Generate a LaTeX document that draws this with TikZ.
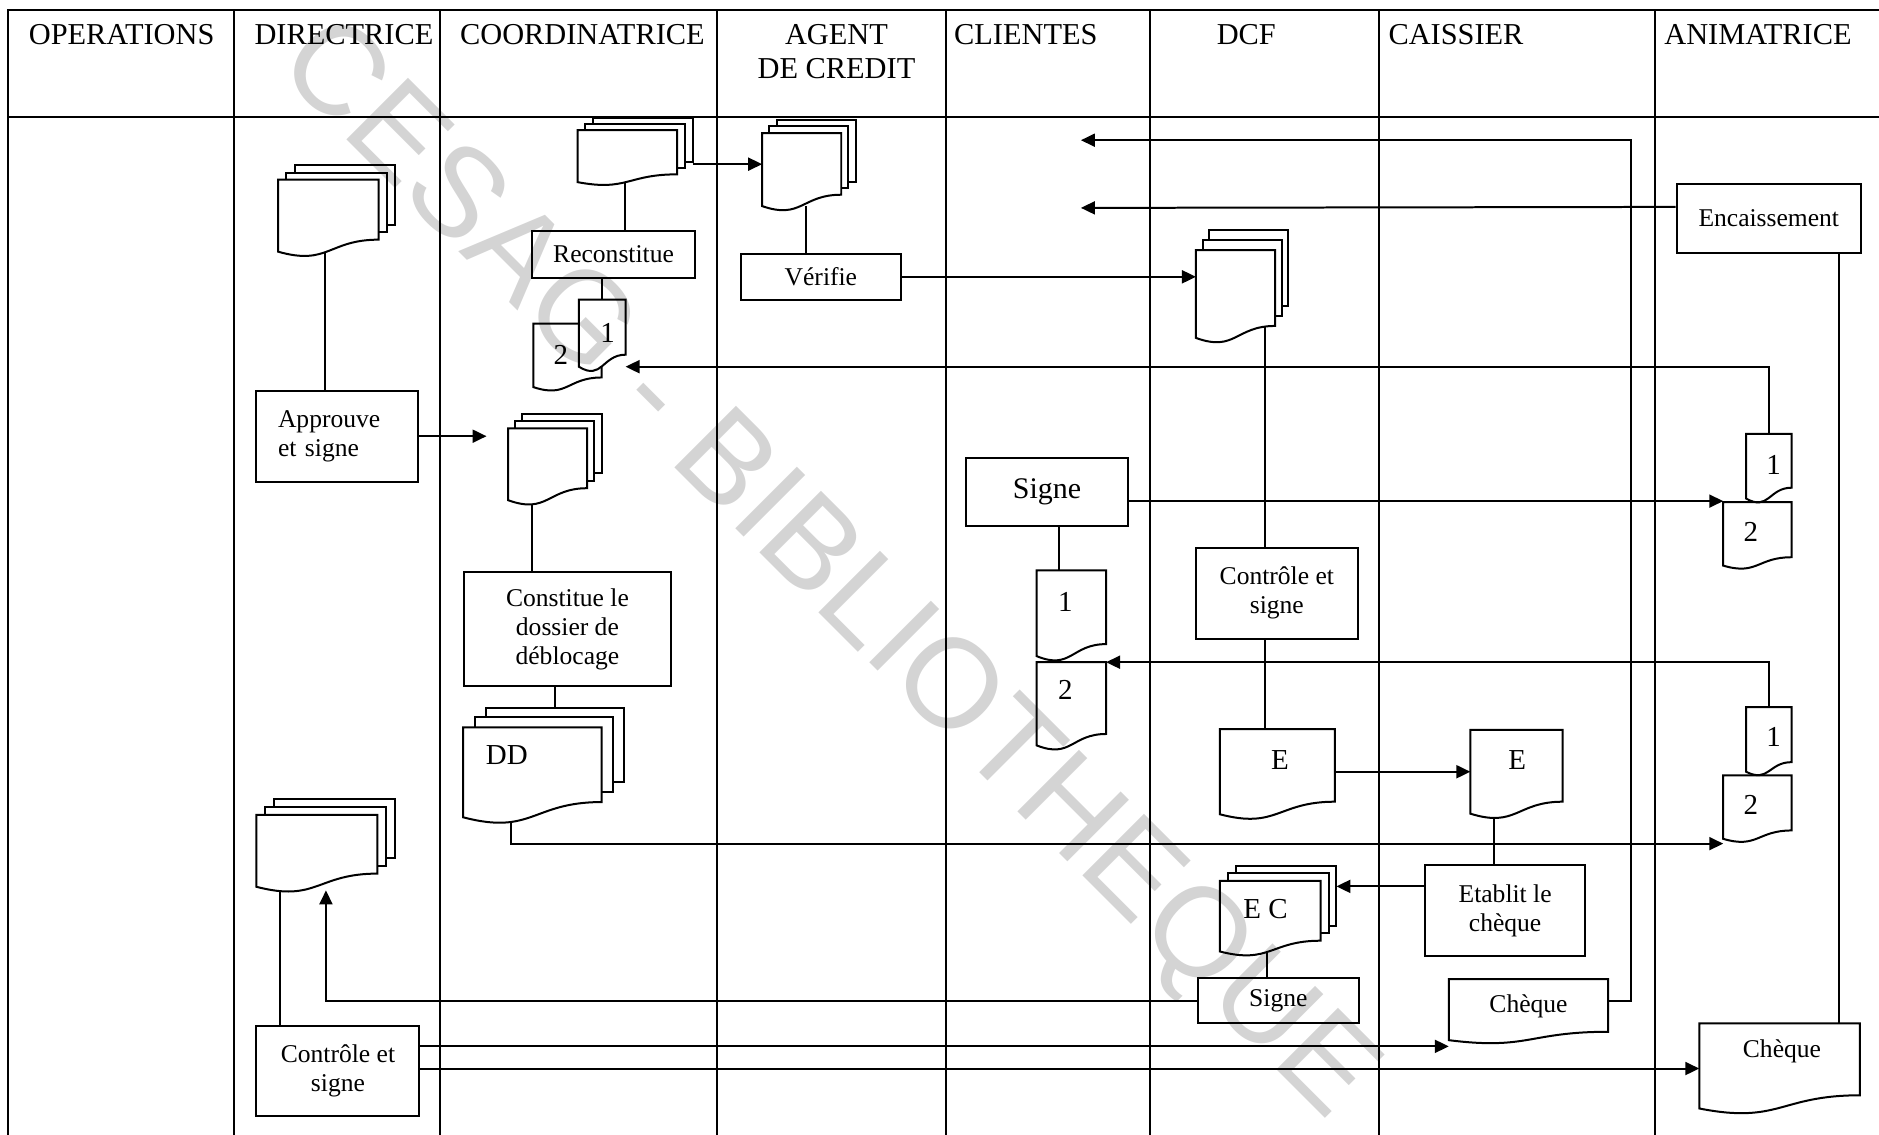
\documentclass[tikz,border=0pt]{standalone}
\usepackage{fontspec}
\setmainfont{Liberation Serif}
\newfontfamily\wmfont{Liberation Sans}
\usetikzlibrary{calc,arrows.meta}

\newcommand\docnode[5]{\node[docbox, minimum width={(#4-#2)*0.6pt}, minimum height={(#5-#3)*0.6pt}] (#1) at ({(#2+#4)/2},{(#3+#5)/2}) {};}
\newcommand\docshape[2]{\draw (#1.south west) -- (#1.north west) -- (#1.north east) -- ($(#1.south east)+(0,-#2)$) .. controls ($(#1.south)+(0,-#2)$) and ($(#1.south)+(0,{1.2*#2})$) .. (#1.south west) -- cycle;}
\newcommand\mdocshape[4]{\docshape{#1}{#2}
  \draw ($(#1.north west)+(#3,0)$) -- ($(#1.north west)+(#3,-#4)$) -- ($(#1.north east)+(#3,-#4)$) -- ($(#1.south east)+(#3,{-#2-#4})$) -- ($(#1.south east)+(0,{-#2-#4})$);
  \draw ($(#1.north west)+({2*#3},-#4)$) -- ($(#1.north west)+({2*#3},{-2*#4})$) -- ($(#1.north east)+({2*#3},{-2*#4})$) -- ($(#1.south east)+({2*#3},{-#2-2*#4})$) -- ($(#1.south east)+(#3,{-#2-2*#4})$);}

\begin{document}
\begin{tikzpicture}[x=0.6pt, y=-0.6pt, line width=1pt,
  docbox/.style={rectangle, draw=none, inner sep=0pt, outer sep=0pt},
  sz/.style 2 args={minimum width={#1*0.6pt}, minimum height={#2*0.6pt}},
  box/.style={rectangle, draw, inner sep=0pt, align=center, font=\fontsize{12.8}{14.6}\selectfont},
  hdr/.style={inner sep=0pt, font=\fontsize{15.2}{17.1}\selectfont},
  dlbl/.style={inner sep=0pt, font=\fontsize{14.5}{16}\selectfont},
  clbl/.style={inner sep=0pt, font=\fontsize{12.8}{14.6}\selectfont},
  arr/.style={-{Triangle[length=7pt,width=6.5pt]}}]

\useasboundingbox (0,0) rectangle (1568,947);

% watermark
\node[font=\wmfont\fontsize{63.4}{70}\selectfont, text=black!17, rotate=-45, inner sep=0pt, text height=45.4pt, text depth=0pt] (wm) at (696,470) {CESAG - BIBLIOTHEQUE};

% frame and swimlanes
\draw (1568,8) -- (7,8) -- (7,947);
\draw (7,98) -- (1568,98);
\foreach \xx in {195,367,598,789,960,1151,1381} \draw (\xx,8) -- (\xx,947);

% headers
\node[hdr, anchor=base] (hOP) at (101.5,37.5) {OPERATIONS};
\node[hdr, anchor=base] (hDIR) at (287,37.5) {DIRECTRICE};
\node[hdr, anchor=base] (hCO) at (486,37.5) {COORDINATRICE};
\node[hdr, align=center] (hAG) at (698,43.4) {AGENT\\DE CREDIT};
\node[hdr, anchor=base] (hCL) at (856,37.5) {CLIENTES};
\node[hdr, anchor=base] (hDCF) at (1040,37.5) {DCF};
\node[hdr, anchor=base] (hCA) at (1215,37.5) {CAISSIER};
\node[hdr, anchor=base] (hAN) at (1467,37.5) {ANIMATRICE};

% process boxes
\node[box, sz={135}{76}, align=left, text width=59.4pt] (Appr) at (281.5,364) {Approuve\\et signe};
\node[box, sz={136}{39}] (Reconst) at (512,212.5) {Reconstitue};
\node[box, sz={134}{38}] (Verif) at (685,231) {Vérifie};
\node[box, sz={173}{95}] (Const) at (473.5,525) {Constitue le\\dossier de\\déblocage};
\node[box, sz={135.5}{56.5}, font=\fontsize{15}{17}\selectfont] (SigneC) at (873.75,410.75) {Signe};
\node[box, sz={135}{76}] (CtlDCF) at (1065.5,495) {Contrôle et\\signe};
\node[box, sz={134.5}{38}] (SigneD) at (1066.75,835) {Signe};
\node[box, sz={134}{76}] (Etab) at (1256,760) {Etablit le\\chèque};
\node[box, sz={154}{57.5}] (Enc) at (1476,182.25) {Encaissement};
\node[box, sz={136}{75}] (CtlDIR) at (282,893.5) {Contrôle et\\signe};

% documents
\docnode{D1}{232}{150}{316}{210} \mdocshape{D1}{10}{7}{6}
\docnode{C1}{482}{108.5}{565}{152} \mdocshape{C1}{6.5}{6.5}{5}
\docnode{A1}{636}{111}{702}{172} \mdocshape{A1}{9.5}{6}{5.5}
\docnode{CP1}{483}{250}{522}{306} \docshape{CP1}{10}
\docnode{CP2}{445}{270}{502}{323}
\draw ($(CP2.north west)+(38,0)$) -- (CP2.north west) -- (CP2.south west) .. controls ($(CP2.south)+(0,9.6)$) and ($(CP2.south)+(0,-8)$) .. ($(CP2.south east)+(0,-8)$) -- ($(CP2.south east)+(0,-17)$);
\docnode{C2}{424}{357.5}{490}{417.4} \mdocshape{C2}{10}{6}{6.2}
\docnode{DD}{386.5}{607}{502}{682} \mdocshape{DD}{12.7}{9.5}{8.3}
\docnode{D2}{214}{680}{315}{740} \mdocshape{D2}{11}{7.4}{6.7}
\docnode{DCF1}{998}{208.7}{1064}{282} \mdocshape{DCF1}{10}{5.6}{8.3}
\docnode{CL1}{865}{476}{923}{547.5} \docshape{CL1}{10}
\docnode{CL2}{865}{552.6}{923}{622} \docshape{CL2}{9.5}
\docnode{E1}{1018}{608.5}{1114}{679.5} \docshape{E1}{10.5}
\docnode{E2}{1227}{609}{1304}{679} \docshape{E2}{10}
\docnode{EC}{1018}{735}{1102}{794} \mdocshape{EC}{9}{6.6}{6.3}
\docnode{CA2}{1209}{817}{1342}{868} \docshape{CA2}{7}
\docnode{AN1a}{1457}{362}{1495}{416} \docshape{AN1a}{9}
\docnode{AN1b}{1438}{419}{1495}{472} \docshape{AN1b}{7}
\docnode{AN2a}{1457}{590}{1495}{644} \docshape{AN2a}{8}
\docnode{AN2b}{1438}{647}{1495}{700} \docshape{AN2b}{7}
\docnode{AN3}{1418}{854}{1552}{925} \docshape{AN3}{11}

% document labels
\node[dlbl] (lCP1) at (507,278) {1};
\node[dlbl] (lCP2) at (468,296) {2};
\node[dlbl] (lDD) at (423,630) {DD};
\node[dlbl] (lCL1) at (889,502) {1};
\node[dlbl] (lCL2) at (889,576) {2};
\node[dlbl] (lE1) at (1068,634.5) {E};
\node[dlbl] (lE2) at (1266,634) {E};
\node[dlbl] (lEC) at (1056,758.5) {E C};
\node[clbl] (lCA2) at (1275.5,840) {Chèque};
\node[clbl] (lAN3) at (1487,877) {Chèque};
\node[dlbl] (lAN1a) at (1480,388) {1};
\node[dlbl] (lAN1b) at (1461,444) {2};
\node[dlbl] (lAN2a) at (1480,615) {1};
\node[dlbl] (lAN2b) at (1461,672) {2};

% connectors
\coordinate (p1) at ($(D1.south)+(-3,0)$);
\draw (p1) -- (p1 |- Appr.north);
\coordinate (p2) at ($(C1.south)+(-2,0)$);
\draw (p2) -- (p2 |- Reconst.north);
\coordinate (p3) at ($(C1.north east)+(13,28.5)$);
\draw[arr] (p3) -- (p3 -| A1.west);
\coordinate (p4) at ($(A1.south)+(4,0)$);
\draw (p4) -- (p4 |- Verif.north);
\draw[arr] (Verif.east) -- (Verif.east -| DCF1.west);
\draw (Reconst.south -| CP1.north) -- (CP1.north);
\draw[arr] (Appr.east) -- ($(Appr.east -| C2.west)+(-18,0)$);
\coordinate (p8) at ($(C2.south)+(-13,3)$);
\draw (p8) -- (p8 |- Const.north);
\coordinate (p9) at ($(DD.north)+(18.75,-16.6)$);
\draw (p9 |- Const.south) -- (p9);
\coordinate (p10) at ($(DD.south west)+(39.5,3.5)$);
\draw[arr] (p10) |- ($(AN2b.south west)+(0,4)$);
\draw[arr] (AN1a.north) |- (CP1.south east);
\coordinate (p12) at ($(SigneC.north east)+(0,36.5)$);
\draw[arr] (p12) -- (p12 -| AN1b.west);
\coordinate (p13) at ($(SigneC.south)+(10.25,0)$);
\draw (p13) -- (p13 |- CL1.north);
\draw[arr] (AN2a.north) |- (CL2.north east);
\coordinate (p15) at ($(DCF1.south)+(25,-9)$);
\draw (p15) -- (p15 |- CtlDCF.north);
\draw (p15 |- CtlDCF.south) -- (p15 |- E1.north);
\draw[arr] (E1.east) -- (E1.east -| E2.west);
\coordinate (p18) at ($(E2.south west)+(19.5,3.5)$);
\draw (p18) -- (p18 |- Etab.north);
\coordinate (p19) at ($(Etab.north west)+(0,18.5)$);
\coordinate (p19b) at ($(EC.east)+(13.2,0)$);
\draw[arr] (p19) -- (p19 -| p19b);
\coordinate (p20) at ($(EC.south)+(-3,0)$);
\draw (p20) -- (p20 |- SigneD.north);
\draw[arr] (SigneD.west) -| ($(D2.south)+(7.5,3)$);
\coordinate (p22) at ($(D2.south west)+(20,4)$);
\draw (p22) -- (p22 |- CtlDIR.north);
\coordinate (p23) at ($(CtlDIR.north east)+(0,18)$);
\draw[arr] (p23) -- (p23 -| CA2.west);
\coordinate (p24) at ($(CtlDIR.north east)+(0,36.5)$);
\draw[arr] (p24) -- (p24 -| AN3.west);
\coordinate (t1) at (902,117);
\coordinate (k1) at (1361,117);
\draw[arr] ($(CA2.north east)+(0,18)$) -| (k1) -- (t1);
\coordinate (t2) at (902,173.5);
\draw[arr] ($(Enc.north west)+(0,20)$) -- (t2);
\coordinate (p27) at ($(Enc.south east)+(-19.5,0)$);
\draw (p27) -- (p27 |- AN3.north);
\end{tikzpicture}
\end{document}
